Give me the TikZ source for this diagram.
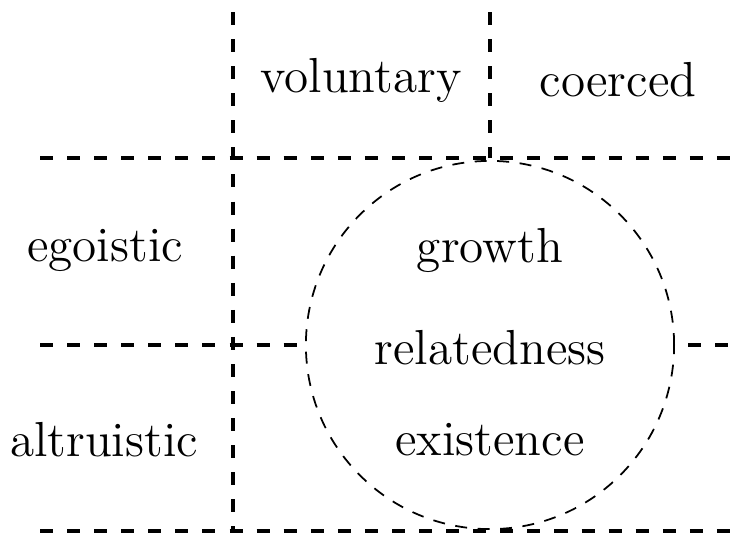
\documentclass[tikz,border=0pt]{standalone}
\begin{document}
\begin{tikzpicture}[x=0.01cm, y=-0.01cm, line join=round,
		grid/.style={line width=1pt, dash pattern=on 3.7pt off 4pt},
		ring/.style={circle, draw, line width=0.5pt, dash pattern=on 3.4pt off 3pt, minimum size=3.68cm, inner sep=0pt},
		lbl/.style={font=\fontsize{14}{16}\selectfont, inner sep=0pt}]
	\useasboundingbox (0,0) rectangle (740,533);
	% Vòng tròn
	\node[ring] (ring) at (490,345) {};
	% Đường dọc
	\draw[grid] (233,12) -- (233,531);
	\draw[grid] (490,12) -- (490,158);
	% Đường ngang
	\draw[grid] (40,158) -- (740,158);
	\draw[grid] (40,345) -- (ring.west); \draw[grid, dash phase=4pt] (ring.east) -- (740,345);
	\draw[grid] (40,531) -- (740,531);
	% Nhãn
	\node[lbl] (vol) at (361,80) {voluntary};
	\node[lbl] (coe) at (618,80) {coerced};
	\node[lbl] (ego) at (105,250) {egoistic};
	\node[lbl] (alt) at (104,440) {altruistic};
	\node[lbl] (gro) at (490,250) {growth};
	\node[lbl] (rel) at (490,348) {relatedness};
	\node[lbl] (exi) at (490,440) {existence};
\end{tikzpicture}
\end{document}
